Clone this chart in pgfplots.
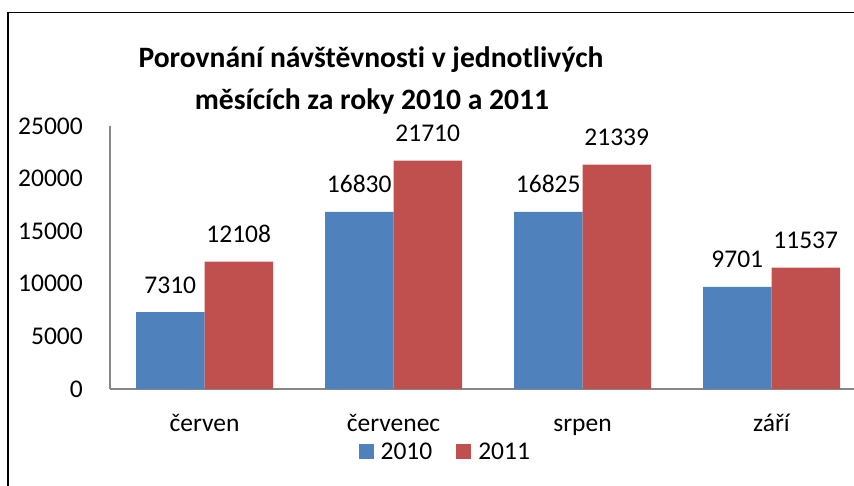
\documentclass[border=0pt]{standalone}
\usepackage{pgfplots}
\pgfplotsset{compat=1.18}
\usepackage{fontspec}
\setmainfont{Carlito}[Ligatures={NoCommon}]
\definecolor{cblue}{HTML}{4F81BD}
\definecolor{cred}{HTML}{C0504D}
\definecolor{caxis}{HTML}{868686}
\begin{document}
\begin{tikzpicture}[x=1pt,y=1pt]
\useasboundingbox (0,0) rectangle (854,486);
\clip (0,0) rectangle (854,486);
\draw[line width=1.5pt] (8,-5) -- (8,473.5) -- (860,473.5);
\node[anchor=base, inner sep=0pt, font=\fontsize{29.6}{34}\selectfont\bfseries] at (371,418) {Porovnání návštěvnosti v jednotlivých};
\node[anchor=base, inner sep=0pt, font=\fontsize{29.6}{34}\selectfont\bfseries] at (372,376) {měsících za roky 2010 a 2011};
\begin{axis}[
  at={(110pt,97pt)}, anchor=south west,
  scale only axis, width=756pt, height=263pt,
  xmin=-0.5, xmax=3.5, ymin=0, ymax=25000,
  ybar=0pt, bar width=68.5pt,
  xtick={0,1,2,3}, xticklabels={červen,červenec,srpen,září},
  ytick={0,5000,10000,15000,20000,25000},
  scaled y ticks=false,
  /pgf/number format/.cd, 1000 sep={}, assume math mode=true, /pgfplots/.cd,
  axis x line*=bottom, axis y line*=left,
  axis line style={caxis, line width=1.2pt, -},
  major tick length=0pt, tick style={draw=none},
  ticklabel style={font=\fontsize{25.5}{30}\selectfont, inner sep=0pt},
  yticklabel style={anchor=east, xshift=-27pt},
  xticklabel style={anchor=base, yshift=-43pt},
  nodes near coords,
  every node near coord/.append style={font=\fontsize{25.5}{30}\selectfont, anchor=base, inner sep=0pt, yshift=19pt, text=black},
  clip=false,
  legend columns=2,
  legend style={at={(0.4435,-0.2395)}, anchor=center, draw=none, fill=none,
    font=\fontsize{25.5}{30}\selectfont, inner sep=0pt,
    /tikz/every odd column/.append style={column sep=5pt},
    /tikz/every even column/.append style={column sep=22pt}},
  legend image code/.code={\fill[#1] (0pt,-7.5pt) rectangle (15pt,7.5pt);},
]
\addplot[fill=cblue, draw=none] coordinates {(0,7310) (1,16830) (2,16825) (3,9701)};
\addplot[fill=cred, draw=none] coordinates {(0,12108) (1,21710) (2,21339) (3,11537)};
\legend{2010,2011}
\end{axis}
\end{tikzpicture}
\end{document}
